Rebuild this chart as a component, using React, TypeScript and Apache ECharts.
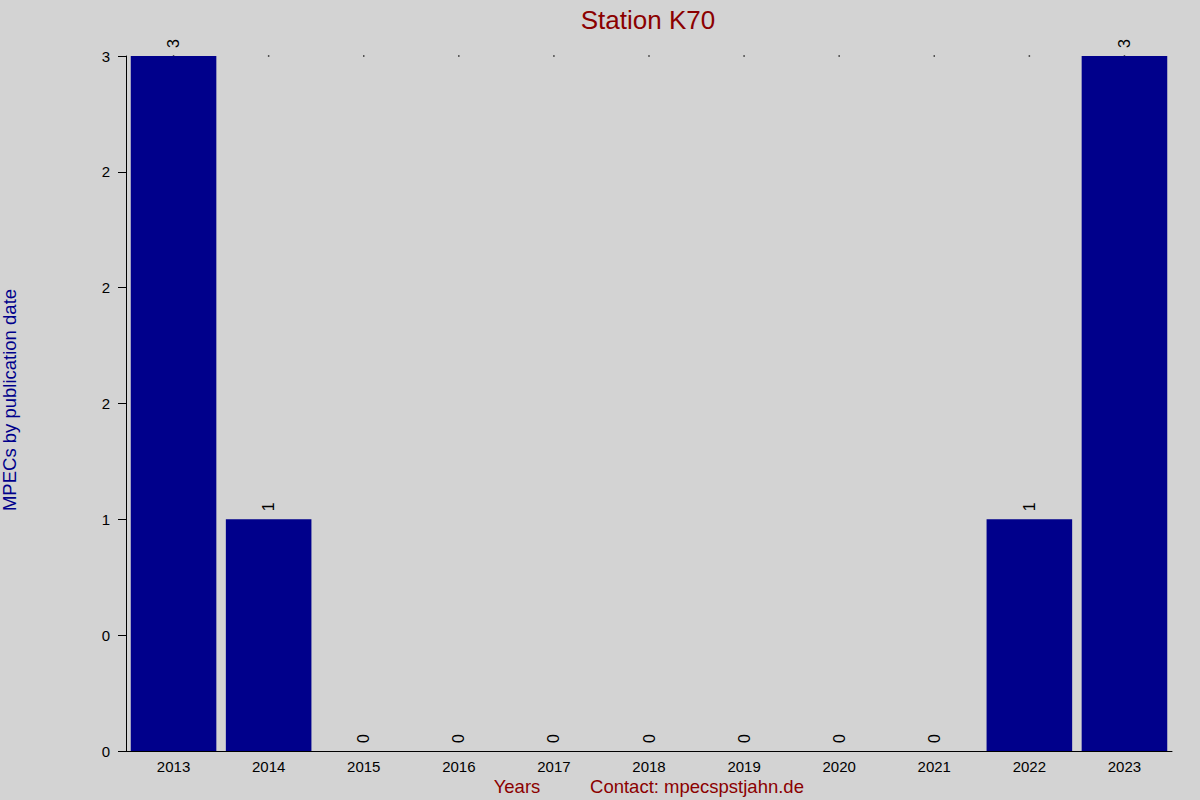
import React, { useEffect, useRef } from 'react';
import * as echarts from 'echarts';

const years = ['2013', '2014', '2015', '2016', '2017', '2018', '2019', '2020', '2021', '2022', '2023'];
const mpecCounts = [3, 1, 0, 0, 0, 0, 0, 0, 0, 1, 3];
// tiny marks along the top of the plot, one per year
const topMarks = [3, 3, 3, 3, 3, 3, 3, 3, 3, 3, 3];
const yTickLabels = ['0', '0', '1', '2', '2', '2', '3'];

const FONT = 'Arial, "Liberation Sans", sans-serif';

export default function App() {
  const chartRef = useRef<HTMLDivElement>(null);

  useEffect(() => {
    if (!chartRef.current) return;
    const chart = echarts.init(chartRef.current, undefined, { renderer: 'svg' });

    const option = {
      animation: false,
      backgroundColor: '#D3D3D3',
      textStyle: { fontFamily: FONT },
      title: {
        text: 'Station K70',
        left: 643,
        top: 2,
        textAlign: 'center',
        textStyle: { color: '#8B0000', fontSize: 26, fontWeight: 'normal' }
      },
      graphic: [
        {
          type: 'text',
          left: 0,
          top: 'middle',
          rotation: Math.PI / 2,
          style: { text: 'MPECs by publication date', fill: '#00008B', font: '18.5px ' + FONT }
        },
        {
          type: 'text',
          x: 517,
          y: 786,
          style: { text: 'Years', fill: '#8B0000', font: '18.5px ' + FONT, align: 'center', verticalAlign: 'middle' }
        },
        {
          type: 'text',
          x: 697,
          y: 786,
          style: { text: 'Contact: mpecspstjahn.de', fill: '#8B0000', font: '18.5px ' + FONT, align: 'center', verticalAlign: 'middle' }
        }
      ],
      grid: { left: 126, right: 28, top: 56, bottom: 49 },
      xAxis: {
        type: 'category',
        data: years,
        axisLine: { show: true, lineStyle: { color: '#000', width: 1 } },
        axisTick: { show: false },
        axisLabel: { color: '#000', fontSize: 15, margin: 8 },
        splitLine: { show: false }
      },
      yAxis: {
        type: 'value',
        min: 0,
        max: 3,
        interval: 0.5,
        axisLine: { show: true, lineStyle: { color: '#000', width: 1 } },
        axisTick: { show: true, length: 8, lineStyle: { color: '#000' } },
        axisLabel: {
          color: '#000',
          fontSize: 15,
          margin: 16,
          formatter: (v: number) => yTickLabels[Math.round(v / 0.5)] ?? ''
        },
        splitLine: { show: false }
      },
      series: [
        {
          type: 'bar',
          data: mpecCounts,
          barCategoryGap: '10%',
          itemStyle: { color: '#00008B' },
          label: {
            show: true,
            position: 'top',
            rotate: 90,
            align: 'left',
            verticalAlign: 'middle',
            distance: 8,
            color: '#000',
            fontSize: 16
          },
          z: 2
        },
        {
          type: 'scatter',
          data: topMarks,
          symbol: 'rect',
          symbolSize: 1.5,
          itemStyle: { color: '#000' },
          silent: true,
          z: 1
        }
      ]
    };

    chart.setOption(option);
    return () => chart.dispose();
  }, []);

  return (
    <div
      ref={chartRef}
      style={{ position: 'fixed', left: 0, top: 0, width: 1200, height: 800 }}
    />
  );
}
